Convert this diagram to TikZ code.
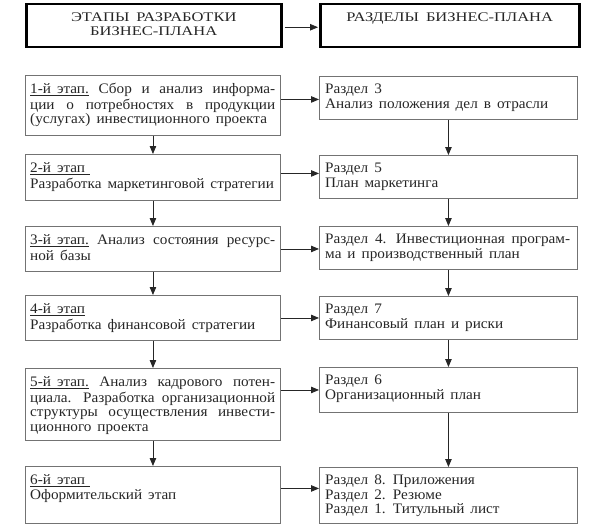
\documentclass[tikz,border=0pt]{standalone}
\usepackage{fontspec}
\setmainfont{Liberation Serif}[FakeStretch=1.05]
\usetikzlibrary{arrows.meta,calc}
\newcommand{\justline}[1]{\makebox[245pt][s]{#1}}
\begin{document}
\begin{tikzpicture}[x=1pt,y=-1pt,
  hbox/.style={draw=black, line width=2.5pt, anchor=north west, inner sep=0pt},
  sbox/.style={draw=black!55, line width=0.9pt, anchor=north west, inner sep=0pt},
  txt/.style={anchor=north west, inner sep=0pt, align=left,
    font={\fontsize{14.5}{14.6}\selectfont\spaceskip=6pt plus 3pt minus 1pt}, text=black!85},
  htxt/.style={anchor=north, inner sep=0pt, align=center,
    font={\fontsize{13.2}{14.5}\selectfont\addfontfeatures{FakeStretch=1.25}\spaceskip=7pt plus 3pt minus 1pt}, text=black!85},
  arr/.style={-{Triangle[length=8pt,width=6.5pt]}, line width=0.8pt, draw=black!85}]
\useasboundingbox (0,0) rectangle (601,527);

% headers
\node[hbox, minimum width=255pt, minimum height=43pt] (H1) at (25,3) {};
\node[hbox, minimum width=259pt, minimum height=43pt] (H2) at (319,3) {};
\node[htxt] (H1t) at ($(H1.north)+(0,8)$) {\strut ЭТАПЫ РАЗРАБОТКИ\\БИЗНЕС-ПЛАНА};
\node[htxt] (H2t) at ($(H2.north)+(0,8)$) {\strut РАЗДЕЛЫ БИЗНЕС-ПЛАНА};

% left column boxes
\node[sbox, minimum width=255pt, minimum height=60pt] (L1) at (25,75) {};
\node[sbox, minimum width=255pt, minimum height=46pt] (L2) at (25,154) {};
\node[sbox, minimum width=255pt, minimum height=45pt] (L3) at (25,226) {};
\node[sbox, minimum width=255pt, minimum height=45pt] (L4) at (25,295) {};
\node[sbox, minimum width=255pt, minimum height=72pt] (L5) at (25,368) {};
\node[sbox, minimum width=255pt, minimum height=57pt] (L6) at (25,466) {};

% right column boxes
\node[sbox, minimum width=258pt, minimum height=43pt] (R1) at (319,76) {};
\node[sbox, minimum width=258pt, minimum height=43pt] (R2) at (319,155) {};
\node[sbox, minimum width=258pt, minimum height=43pt] (R3) at (319,226) {};
\node[sbox, minimum width=258pt, minimum height=43pt] (R4) at (319,296) {};
\node[sbox, minimum width=258pt, minimum height=45pt] (R5) at (319,367) {};
\node[sbox, minimum width=258pt, minimum height=56pt] (R6) at (319,467) {};

% left texts
\node[txt] (L1t) at ($(L1.north west)+(5,8)$) {\strut\justline{\underline{1-й этап.} Сбор и анализ информа-}\\
  \justline{ции о потребностях в продукции}\\
  (услугах) инвестиционного проекта};
\node[txt] (L2t) at ($(L2.north west)+(5,8)$) {\strut\underline{2-й этап\hspace{5pt}}\\
  Разработка маркетинговой стратегии};
\node[txt] (L3t) at ($(L3.north west)+(5,8)$) {\strut\justline{\underline{3-й этап.} Анализ состояния ресурс-}\\
  ной базы};
\node[txt] (L4t) at ($(L4.north west)+(5,8)$) {\strut\underline{4-й этап}\\
  Разработка финансовой стратегии};
\node[txt] (L5t) at ($(L5.north west)+(5,8)$) {\strut\justline{\underline{5-й этап.} Анализ кадрового потен-}\\
  \justline{циала. Разработка организационной}\\
  \justline{структуры осуществления инвести-}\\
  ционного проекта};
\node[txt] (L6t) at ($(L6.north west)+(5,8)$) {\strut\underline{6-й этап\hspace{5pt}}\\
  Оформительский этап};

% right texts
\node[txt] (R1t) at ($(R1.north west)+(6,7)$) {\strut Раздел 3\\Анализ положения дел в отрасли};
\node[txt] (R2t) at ($(R2.north west)+(6,7)$) {\strut Раздел 5\\План маркетинга};
\node[txt] (R3t) at ($(R3.north west)+(6,7)$) {\strut\justline{Раздел 4. Инвестиционная програм-}\\
  ма и производственный план};
\node[txt] (R4t) at ($(R4.north west)+(6,7)$) {\strut Раздел 7\\Финансовый план и риски};
\node[txt] (R5t) at ($(R5.north west)+(6,7)$) {\strut Раздел 6\\Организационный план};
\node[txt] (R6t) at ($(R6.north west)+(6,7)$) {\strut Раздел 8. Приложения\\Раздел 2. Резюме\\Раздел 1. Титульный лист};

% arrows
\draw[arr, shorten <=2pt, shorten >=1pt] ([yshift=-1.5pt]H2.west -| H1.east) -- ([yshift=-1.5pt]H2.west);
\draw[arr] ([yshift=-1.5pt]R1.west -| L1.east) -- ([yshift=-1.5pt]R1.west);
\draw[arr] ([yshift=3.5pt]R2.west -| L2.east) -- ([yshift=3.5pt]R2.west);
\draw[arr] ([yshift=-1pt]R3.west -| L3.east) -- ([yshift=-1pt]R3.west);
\draw[arr] (R4.west -| L4.east) -- (R4.west);
\draw[arr] (R5.west -| L5.east) -- (R5.west);
\draw[arr] ([yshift=7pt]R6.west -| L6.east) -- ([yshift=7pt]R6.west);
\foreach \a/\b in {L1/L2,L2/L3,L3/L4,L4/L5,L5/L6,R1/R2,R2/R3,R3/R4,R4/R5,R5/R6}
  \draw[arr] (\a.south) -- (\b.north);
\end{tikzpicture}
\end{document}
